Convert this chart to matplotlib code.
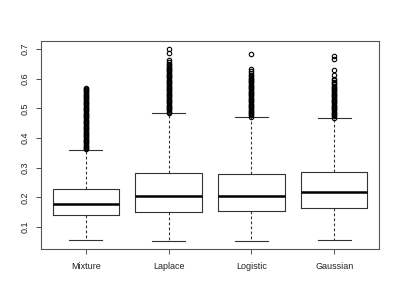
import matplotlib
matplotlib.use("Agg")
import matplotlib.pyplot as plt

plt.rcParams['font.family'] = ['Liberation Sans', 'DejaVu Sans']

names = ["Mixture", "Laplace", "Logistic", "Gaussian"]
medians = [0.178, 0.205, 0.205, 0.218]
q1 = [0.139, 0.150, 0.153, 0.163]
q3 = [0.229, 0.282, 0.280, 0.285]
whislo = [0.055, 0.053, 0.053, 0.056]
whishi = [0.360, 0.483, 0.470, 0.467]

# upper outliers (dense runs above each whisker)
out_mixture = [0.362, 0.366, 0.370, 0.374, 0.378, 0.382, 0.386, 0.390, 0.394, 0.398,
               0.402, 0.406, 0.410, 0.414, 0.418, 0.422, 0.426, 0.430, 0.434, 0.438,
               0.442, 0.446, 0.450, 0.454, 0.458, 0.462, 0.466, 0.470, 0.474, 0.478,
               0.482, 0.486, 0.490, 0.494, 0.498, 0.502, 0.506, 0.510, 0.514, 0.518,
               0.522, 0.526, 0.530, 0.534, 0.538, 0.542, 0.546, 0.550, 0.554, 0.558,
               0.562, 0.566, 0.570]
out_laplace = [0.485, 0.489, 0.493, 0.497, 0.501, 0.505, 0.509, 0.513, 0.517, 0.521,
               0.525, 0.529, 0.533, 0.537, 0.541, 0.545, 0.549, 0.553, 0.557, 0.561,
               0.565, 0.569, 0.573, 0.577, 0.581, 0.585, 0.589, 0.593, 0.597, 0.601,
               0.605, 0.609, 0.613, 0.617, 0.621, 0.625, 0.629, 0.633, 0.637, 0.641,
               0.645, 0.650, 0.655, 0.664, 0.686, 0.700]
out_logistic = [0.472, 0.476, 0.480, 0.484, 0.488, 0.492, 0.496, 0.500, 0.504, 0.508,
                0.512, 0.516, 0.520, 0.524, 0.528, 0.532, 0.536, 0.540, 0.544, 0.548,
                0.552, 0.556, 0.560, 0.564, 0.568, 0.572, 0.576, 0.580, 0.584, 0.588,
                0.592, 0.596, 0.600, 0.604, 0.608, 0.613, 0.619, 0.626, 0.634, 0.683]
out_gaussian = [0.469, 0.473, 0.477, 0.481, 0.485, 0.489, 0.493, 0.497, 0.501, 0.505,
                0.509, 0.513, 0.517, 0.521, 0.525, 0.529, 0.533, 0.537, 0.541, 0.545,
                0.549, 0.553, 0.557, 0.561, 0.565, 0.569, 0.573, 0.577, 0.581, 0.585,
                0.589, 0.594, 0.600, 0.612, 0.630, 0.668, 0.676]
outliers = [out_mixture, out_laplace, out_logistic, out_gaussian]

stats = []
for i in range(len(names)):
    stats.append(dict(label=names[i], med=medians[i], q1=q1[i], q3=q3[i],
                      whislo=whislo[i], whishi=whishi[i], fliers=outliers[i]))

fig = plt.figure(figsize=(4, 3), dpi=100)
ax = fig.add_axes([0.1025, 0.17, 0.845, 0.6933])

lc = '#333333'
ax.bxp(stats, positions=[1, 2, 3, 4], widths=0.8, showfliers=True,
       boxprops=dict(color=lc, linewidth=0.8),
       whiskerprops=dict(color=lc, linewidth=0.8, linestyle=(0, (2.5, 2))),
       capprops=dict(color=lc, linewidth=0.8),
       medianprops=dict(color='black', linewidth=1.8),
       flierprops=dict(marker='o', markerfacecolor='none', markeredgecolor='black',
                       markersize=3.2, markeredgewidth=0.8),
       capwidths=0.4)

ax.set_xlim(0.46, 4.54)
ax.set_ylim(0.026, 0.727)
ax.set_yticks([0.1, 0.2, 0.3, 0.4, 0.5, 0.6, 0.7])
ax.set_yticklabels(['0.1', '0.2', '0.3', '0.4', '0.5', '0.6', '0.7'], rotation=90, va='center')
ax.set_xticks([1, 2, 3, 4])
ax.set_xticklabels(names)
ax.tick_params(axis='both', labelsize=6.5, length=3.5, width=0.6, color=lc,
               labelcolor='#222222')
ax.tick_params(axis='x', pad=6)
ax.tick_params(axis='y', pad=5)
for s in ax.spines.values():
    s.set_color('#555555')
    s.set_linewidth(0.8)

fig.savefig("out.png", dpi=100)
